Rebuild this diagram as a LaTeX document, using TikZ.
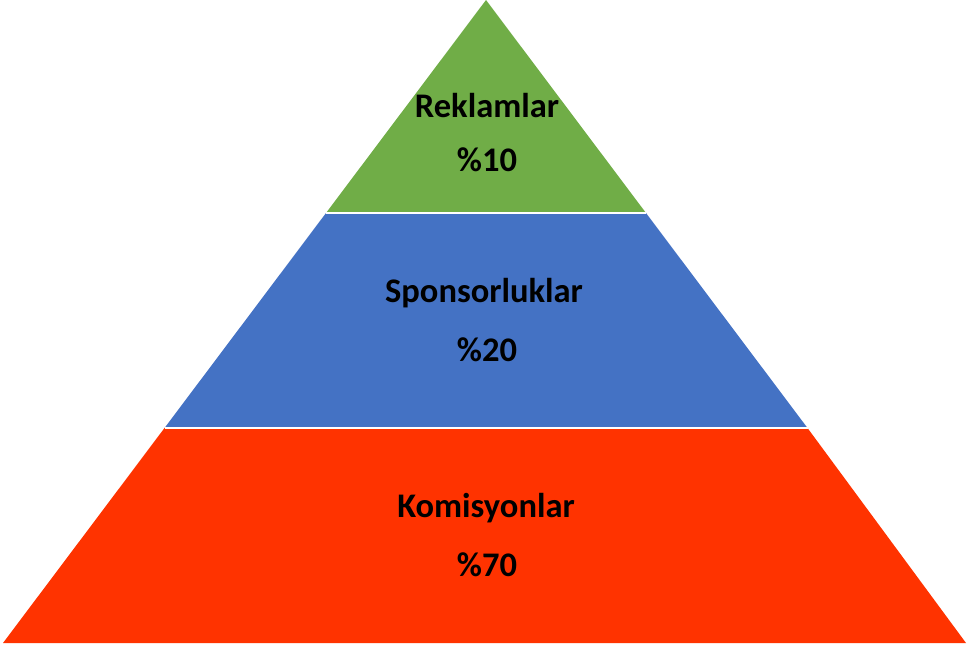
\documentclass[tikz,border=0pt]{standalone}
\usepackage{fontspec}
\setmainfont{Carlito}
\definecolor{pgreen}{HTML}{70AD47}
\definecolor{pblue}{HTML}{4472C4}
\definecolor{pred}{HTML}{FF3300}
\begin{document}
\begin{tikzpicture}[x=1pt,y=-1pt,
  lbl/.style={font=\fontsize{34.5}{40}\selectfont\bfseries, text=black, inner sep=0pt},
  sep/.style={draw=white, line width=2pt}]
\useasboundingbox (0,0) rectangle (968,645);
\coordinate (apex) at (486,0);
\coordinate (g1) at (326,213);
\coordinate (g2) at (646,213);
\coordinate (b1) at (164.5,428);
\coordinate (b2) at (807.5,428);
\coordinate (r1) at (3,643);
\coordinate (r2) at (966,643);
\fill[pgreen] (apex) -- (g2) -- (g1) -- cycle;
\fill[pblue] (g1) -- (g2) -- (b2) -- (b1) -- cycle;
\fill[pred] (b1) -- (b2) -- (r2) -- (r1) -- cycle;
\draw[sep] (g1) -- (g2);
\draw[sep] (b1) -- (b2);
\node[lbl] (t1) at (487,106) {Reklamlar};
\node[lbl] (p1) at (487,160) {\%10};
\node[lbl] (t2) at (484,293) {Sponsorluklar};
\node[lbl] (p2) at (487,350) {\%20};
\node[lbl] (t3) at (486,508) {Komisyonlar};
\node[lbl] (p3) at (487,565) {\%70};
\end{tikzpicture}
\end{document}
